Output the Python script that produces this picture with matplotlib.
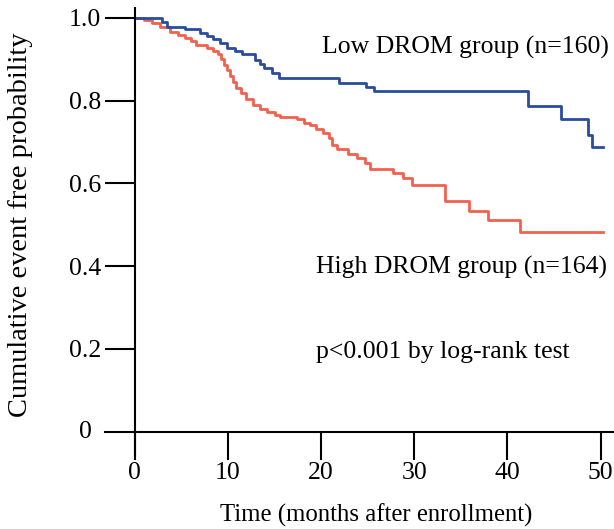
import matplotlib
matplotlib.use("Agg")
import matplotlib.pyplot as plt

plt.rcParams['font.family'] = ['Liberation Serif', 'DejaVu Serif']

# Low DROM group (n=160) - event times (months) and survival
low_t = [0, 2.9, 3.5, 5.4, 7.0, 7.7, 8.4, 9.1, 9.9, 10.7, 11.5, 12.9, 13.4, 13.9, 14.7,
         15.5, 21.9, 24.8, 25.7, 42.2, 45.7, 48.6, 49.1, 50.2]
low_s = [1.0, 0.990, 0.978, 0.973, 0.964, 0.956, 0.949, 0.939, 0.927, 0.921, 0.913, 0.898,
         0.888, 0.879, 0.867, 0.854, 0.842, 0.833, 0.823, 0.786, 0.755, 0.716, 0.687, 0.687]

# High DROM group (n=164)
high_t = [0, 1.0, 1.8, 2.7, 3.8, 4.6, 5.4, 6.0, 6.6, 7.8, 8.4, 8.9, 9.3, 9.6, 9.9,
          10.2, 10.5, 10.9, 11.4, 11.9, 12.7, 13.4, 14.2, 15.0, 15.6, 17.4, 18.2,
          18.8, 19.5, 20.2, 20.8, 21.2, 21.7, 22.9, 23.8, 24.7, 25.2, 27.7, 28.8,
          29.8, 33.3, 35.9, 37.9, 41.3, 50.2]
high_s = [1.0, 0.995, 0.988, 0.978, 0.966, 0.959, 0.952, 0.944, 0.935, 0.928, 0.920,
          0.913, 0.900, 0.887, 0.874, 0.860, 0.845, 0.831, 0.818, 0.805, 0.790, 0.780,
          0.773, 0.766, 0.761, 0.755, 0.746, 0.740, 0.732, 0.722, 0.710, 0.693, 0.683,
          0.670, 0.662, 0.650, 0.636, 0.624, 0.612, 0.597, 0.558, 0.534, 0.512, 0.483,
          0.483]

xticks = [0, 10, 20, 30, 40, 50]
yticks = [0, 0.2, 0.4, 0.6, 0.8, 1.0]
ytick_labels = ['0', '0.2', '0.4', '0.6', '0.8', '1.0']

fig = plt.figure(figsize=(6.14, 5.29), dpi=100)
ax = fig.add_axes([0.171, 0.140, 0.827, 0.845])

ax.step(high_t, high_s, where='post', color='#f2604e', lw=2.0)
ax.step(low_t, low_s, where='post', color='#2a4c9c', lw=2.0)

ax.set_xlim(-3.2, 51.3)
ax.set_ylim(-0.056, 1.024)

for s in ['top', 'right']:
    ax.spines[s].set_visible(False)
ax.spines['left'].set_position(('data', 0))
ax.spines['bottom'].set_position(('data', 0))
for s in ['left', 'bottom']:
    ax.spines[s].set_linewidth(1.5)

ax.set_xticks(xticks)
ax.set_yticks(yticks[1:])
ax.set_yticklabels(ytick_labels[1:])
ax.tick_params(axis='y', length=21.6, width=1.5, pad=2.5, labelsize=18.5)
ax.tick_params(axis='x', length=20, width=1.5, pad=2, labelsize=18.5)
# "0" label for the y axis, sits at the left end of the x axis line
ax.text(-5.3, 0, '0', ha='center', va='center', fontsize=18.5)

ax.text(20.1, 0.928, 'Low DROM group (n=160)', fontsize=18.5, va='center')
ax.text(19.4, 0.396, 'High DROM group (n=164)', fontsize=18.5, va='center')
ax.text(19.4, 0.193, 'p<0.001 by log-rank test', fontsize=18.5, va='center')

fig.text(0.612, 0.025, 'Time (months after enrollment)', fontsize=17.8, ha='center', va='center')
fig.text(0.033, 0.575, 'Cumulative event free probability', fontsize=20.5, rotation=90,
         ha='center', va='center')

fig.savefig('out.png', dpi=100)
